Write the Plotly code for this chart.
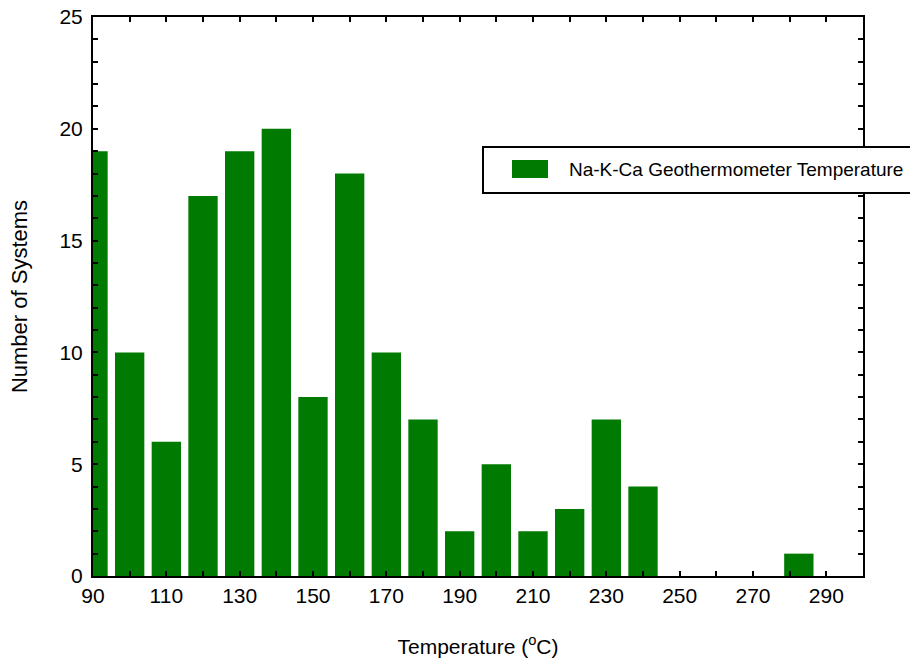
import plotly.graph_objects as go

temperature_bins = [90, 100, 110, 120, 130, 140, 150, 160, 170, 180, 190,
                    200, 210, 220, 230, 240, 250, 260, 270, 282.5, 290]
num_systems = [19, 10, 6, 17, 19, 20, 8, 18, 10, 7, 2,
               5, 2, 3, 7, 4, 0, 0, 0, 1, 0]
series_name = "Na-K-Ca Geothermometer Temperature"
x_tick_labels = [90, 110, 130, 150, 170, 190, 210, 230, 250, 270, 290]
y_tick_labels = [0, 5, 10, 15, 20, 25]

GREEN = "#007a00"
FONT = "Liberation Sans, Arial, sans-serif"

fig = go.Figure()
fig.add_trace(go.Bar(
    x=temperature_bins, y=num_systems, name=series_name,
    width=8, marker=dict(color=GREEN, line=dict(width=0)),
    showlegend=False,
))

W, H = 910, 664
L, R, T, B = 93, 47, 17, 88
pw, ph = W - L - R, H - T - B

def px(x):
    return (x - L) / pw

def py(y):
    return (H - B - y) / ph

fig.update_layout(
    width=W, height=H,
    margin=dict(l=L, r=R, t=T, b=B, pad=0, autoexpand=False),
    paper_bgcolor="white", plot_bgcolor="white",
    font=dict(family=FONT, color="black", size=21),
    xaxis=dict(
        range=[90, 300], tickmode="array", tickvals=x_tick_labels,
        ticks="inside", ticklen=5, tickwidth=2, tickcolor="black",
        minor=dict(tickmode="linear", tick0=90, dtick=10, ticks="inside",
                   ticklen=5, tickwidth=2, tickcolor="black"),
        showline=True, linewidth=2, linecolor="black", mirror="allticks",
        showgrid=False, zeroline=False, automargin=False,
        tickfont=dict(size=21),
        title=dict(text="Temperature (<sup>o</sup>C)", font=dict(size=21), standoff=33),
    ),
    yaxis=dict(
        range=[0, 25], tickmode="array", tickvals=y_tick_labels,
        ticks="inside", ticklen=5, tickwidth=2, tickcolor="black",
        minor=dict(tickmode="linear", tick0=0, dtick=1, ticks="inside",
                   ticklen=5, tickwidth=2, tickcolor="black"),
        showline=True, linewidth=2, linecolor="black", mirror="allticks",
        showgrid=False, zeroline=False, automargin=False,
        tickfont=dict(size=21), ticklabelstandoff=4,
        title=dict(text="Number of Systems", font=dict(size=22), standoff=26),
    ),
    bargap=0.2,
)

# Legend drawn as shapes + text
fig.add_shape(type="rect", xref="paper", yref="paper",
              x0=px(483), x1=px(915), y0=py(193), y1=py(147),
              line=dict(color="black", width=2), fillcolor="white", layer="above")
fig.add_shape(type="rect", xref="paper", yref="paper",
              x0=px(512), x1=px(548), y0=py(178), y1=py(160),
              line=dict(width=0), fillcolor=GREEN, layer="above")
fig.add_annotation(xref="paper", yref="paper", x=px(567), y=py(169),
                   text=series_name, showarrow=False, xanchor="left", yanchor="middle",
                   font=dict(size=19, family=FONT, color="black"))

fig.write_html("out.html")
